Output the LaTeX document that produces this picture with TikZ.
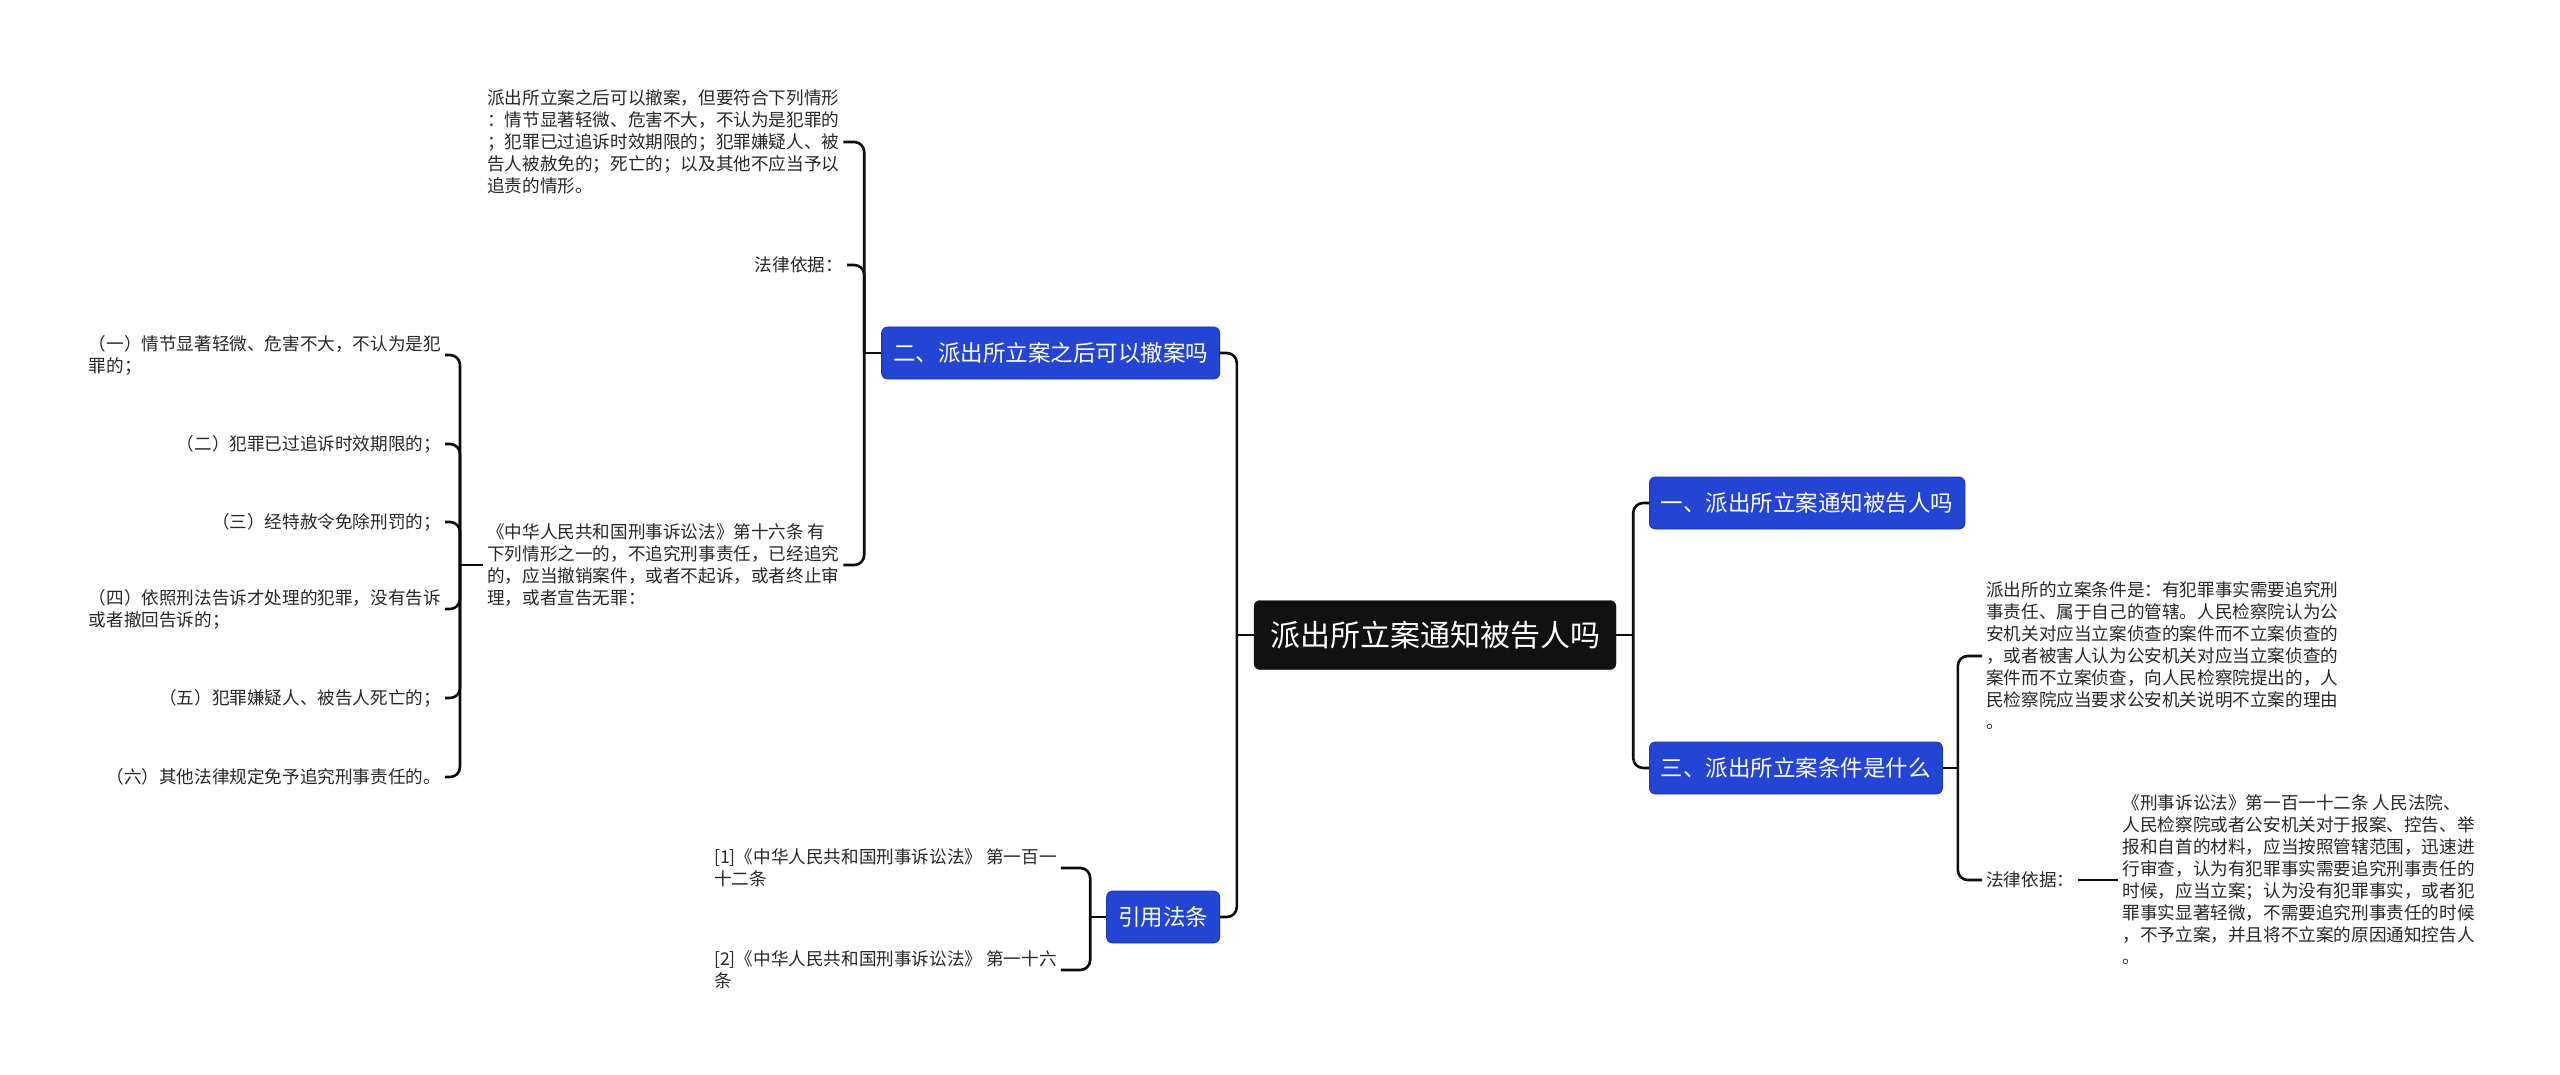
\documentclass[tikz,border=0pt]{standalone}
\usepackage{fontspec}
\setmainfont{Noto Sans CJK SC}
\usepackage{tikz}
\usetikzlibrary{positioning}
\usepackage{xcolor}
\definecolor{rootbg}{RGB}{17,17,17}
\definecolor{topicbg}{RGB}{36,68,212}
\definecolor{topicline}{RGB}{28,52,176}
\definecolor{leaftext}{RGB}{40,40,40}
\definecolor{linkcol}{RGB}{12,12,12}
\tikzstyle{root} = [
    rectangle, rounded corners=6pt, fill=rootbg, draw=rootbg, text=white,
    font=\fontsize{30}{36}\selectfont, inner xsep=16pt, minimum height=69pt
]
\tikzstyle{topic} = [
    rectangle, rounded corners=6pt, fill=topicbg, draw=topicline, line width=0.8pt,
    text=white, font=\fontsize{22.5}{27}\selectfont, inner xsep=11.5pt,
    minimum height=52pt
]
\tikzstyle{leaf} = [
    align=left, inner xsep=4pt, inner ysep=2pt, text=leaftext,
    font=\fontsize{17.6}{22}\selectfont
]
\tikzstyle{link} = [line width=2.6pt, color=linkcol, rounded corners=10pt]

\begin{document}
\begin{tikzpicture}[x=1pt, y=-1pt]

    \fill[white] (0,0) rectangle (2560,1075);
    \useasboundingbox (0,0) rectangle (2560,1075);

    % Root and topics
    \node[root] (root) at (1435,635) {派出所立案通知被告人吗};
    \node[topic, anchor=west] (t1) at (1649,503) {一、派出所立案通知被告人吗};
    \node[topic, anchor=west] (t3) at (1649,768) {三、派出所立案条件是什么};
    \node[topic, anchor=east] (t2) at (1220,353) {二、派出所立案之后可以撤案吗};
    \node[topic, anchor=east] (t4) at (1220,917) {引用法条};

    % Leaves of topic 2
    \node[leaf, anchor=west] (l1) at (483,142) {派出所立案之后可以撤案，但要符合下列情形\\
        ：情节显著轻微、危害不大，不认为是犯罪的\\
        ；犯罪已过追诉时效期限的；犯罪嫌疑人、被\\
        告人被赦免的；死亡的；以及其他不应当予以\\
        追责的情形。};
    \node[leaf, anchor=east] (l2) at (847,265) {法律依据：};
    \node[leaf, anchor=west] (l3) at (483,565) {《中华人民共和国刑事诉讼法》第十六条 有\\
        下列情形之一的，不追究刑事责任，已经追究\\
        的，应当撤销案件，或者不起诉，或者终止审\\
        理，或者宣告无罪：};

    % Items of article 16
    \node[leaf, anchor=east] (k1) at (445,355) {（一）情节显著轻微、危害不大，不认为是犯\\
        罪的；};
    \node[leaf, anchor=east] (k2) at (445,444) {（二）犯罪已过追诉时效期限的；};
    \node[leaf, anchor=east] (k3) at (445,522) {（三）经特赦令免除刑罚的；};
    \node[leaf, anchor=east] (k4) at (445,609) {（四）依照刑法告诉才处理的犯罪，没有告诉\\
        或者撤回告诉的；};
    \node[leaf, anchor=east] (k5) at (445,698) {（五）犯罪嫌疑人、被告人死亡的；};
    \node[leaf, anchor=east] (k6) at (445,777) {（六）其他法律规定免予追究刑事责任的。};

    % Cited articles
    \node[leaf, anchor=west] (c1) at (710,868) {[1]《中华人民共和国刑事诉讼法》 第一百一\\
        十二条};
    \node[leaf, anchor=west] (c2) at (710,970) {[2]《中华人民共和国刑事诉讼法》 第一十六\\
        条};

    % Leaves of topic 3
    \node[leaf, anchor=west] (r1) at (1982,656) {派出所的立案条件是：有犯罪事实需要追究刑\\
        事责任、属于自己的管辖。人民检察院认为公\\
        安机关对应当立案侦查的案件而不立案侦查的\\
        ，或者被害人认为公安机关对应当立案侦查的\\
        案件而不立案侦查，向人民检察院提出的，人\\
        民检察院应当要求公安机关说明不立案的理由\\
        。};
    \node[leaf, anchor=west] (r2) at (1982,880) {法律依据：};
    \node[leaf, right=40pt of r2] (r3) {《刑事诉讼法》第一百一十二条 人民法院、\\
        人民检察院或者公安机关对于报案、控告、举\\
        报和自首的材料，应当按照管辖范围，迅速进\\
        行审查，认为有犯罪事实需要追究刑事责任的\\
        时候，应当立案；认为没有犯罪事实，或者犯\\
        罪事实显著轻微，不需要追究刑事责任的时候\\
        ，不予立案，并且将不立案的原因通知控告人\\
        。};

    % Root links
    \draw[link] (root.east) -- ++(17,0) coordinate (rs);
    \draw[link] (rs) |- (t1.west);
    \draw[link] (rs) |- (t3.west);
    \draw[link] (root.west) -- ++(-17,0) coordinate (ls);
    \draw[link] (ls) |- (t2.east);
    \draw[link] (ls) |- (t4.east);

    % Topic links
    \draw[link] (t2.west) -- ++(-17,0) coordinate (s2);
    \draw[link] (s2) |- (l1.east);
    \draw[link] (s2) |- (l2.east);
    \draw[link] (s2) |- (l3.east);
    \draw[link] (l3.west) -- ++(-23,0) coordinate (s3);
    \foreach \k in {k1,k2,k3,k4,k5,k6}
        \draw[link] (s3) |- (\k.east);
    \draw[link] (t4.west) -- ++(-16,0) coordinate (s4);
    \draw[link] (s4) |- (c1.east);
    \draw[link] (s4) |- (c2.east);
    \draw[link] (t3.east) -- ++(15,0) coordinate (s5);
    \draw[link] (s5) |- (r1.west);
    \draw[link] (s5) |- (r2.west);
    \draw[link] (r2.east) -- (r3.west);

\end{tikzpicture}
\end{document}
